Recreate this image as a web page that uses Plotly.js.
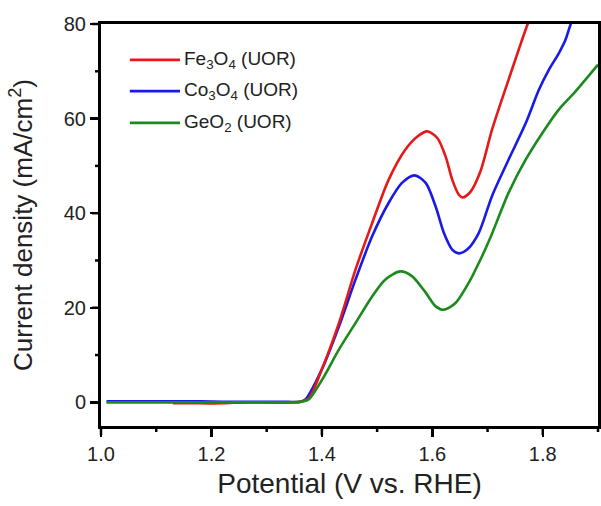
<!DOCTYPE html>
<html>
<head>
<meta charset="utf-8">
<script src="https://cdn.plot.ly/plotly-3.0.1.min.js"></script>
<style>html,body{margin:0;padding:0;background:#fff;}#chart{width:601px;height:506px;}</style>
</head>
<body>
<div id="chart"></div>
<script>
// Potential (V vs. RHE) and current density (mA/cm2)
const feX = [1.13, 1.18, 1.22, 1.26, 1.30, 1.34, 1.36, 1.376, 1.40, 1.431, 1.461, 1.491, 1.521, 1.551, 1.573, 1.591, 1.609, 1.624, 1.636, 1.648, 1.655, 1.669, 1.687, 1.708, 1.738, 1.772, 1.78];
const feY = [-0.2, -0.2, -0.2, 0.0, 0.0, 0.0, 0.1, 0.8, 7.0, 16.8, 28.1, 37.9, 47.1, 53.4, 56.2, 57.3, 55.9, 52.0, 47.1, 43.9, 43.3, 44.5, 48.8, 57.6, 68.2, 79.8, 82.0];

const coX = [1.01, 1.06, 1.10, 1.13, 1.18, 1.22, 1.26, 1.30, 1.34, 1.36, 1.37, 1.40, 1.431, 1.461, 1.491, 1.521, 1.545, 1.568, 1.588, 1.606, 1.621, 1.636, 1.648, 1.663, 1.684, 1.708, 1.738, 1.769, 1.793, 1.811, 1.829, 1.841, 1.850, 1.856];
const coY = [0.2, 0.2, 0.2, 0.2, 0.2, 0.1, 0.1, 0.1, 0.1, 0.1, 0.6, 7.0, 16.1, 26.0, 35.1, 42.2, 46.4, 48.0, 46.4, 41.4, 35.8, 32.3, 31.5, 32.3, 35.8, 43.6, 51.3, 59.0, 66.1, 70.3, 73.8, 76.6, 79.8, 81.5];

const geX = [1.01, 1.06, 1.10, 1.14, 1.18, 1.22, 1.26, 1.30, 1.34, 1.36, 1.376, 1.401, 1.431, 1.461, 1.491, 1.515, 1.542, 1.563, 1.588, 1.606, 1.621, 1.642, 1.666, 1.690, 1.705, 1.738, 1.769, 1.799, 1.829, 1.859, 1.877, 1.90];
const geY = [0.0, 0.0, 0.0, 0.0, 0.0, 0.0, 0.0, 0.0, 0.0, 0.1, 0.6, 4.9, 11.2, 16.8, 22.4, 26.0, 27.7, 26.7, 23.2, 20.3, 19.6, 21.0, 25.3, 30.9, 34.8, 44.3, 51.3, 56.9, 61.9, 65.7, 68.2, 71.4];

const seriesNames = ['Fe<sub>3</sub>O<sub>4</sub> (UOR)', 'Co<sub>3</sub>O<sub>4</sub> (UOR)', 'GeO<sub>2</sub> (UOR)'];
const xTitle = 'Potential (V vs. RHE)';
const yTitle = 'Current density (mA/cm<sup>2</sup>)';
const xMajor = [1.0, 1.2, 1.4, 1.6, 1.8];
const xMinor = [1.1, 1.3, 1.5, 1.7, 1.9];
const yMajor = [0, 20, 40, 60, 80];
const yMinor = [10, 30, 50, 70];
const xRange = [1.0, 1.9];
const yRange = [-5, 80];

const colors = ['#e61919', '#1a1ae6', '#1c8a1c'];
const xs = [feX, coX, geX];
const ys = [feY, coY, geY];

// draw order: blue, red, green (green on top at baseline like the reference)
const order = [1, 0, 2];
const traces = order.map(i => ({
  x: xs[i], y: ys[i], name: seriesNames[i], type: 'scatter', mode: 'lines',
  line: {color: colors[i], width: 2.6, shape: 'spline', smoothing: 0.8},
  showlegend: false
}));

const FONT = 'Liberation Sans, Arial, sans-serif';
const tickFont = {family: FONT, size: 20, color: '#222'};
const PLOT_H = 402, PLOT_W = 497;
const px = v => (v - xRange[0]) / (xRange[1] - xRange[0]);
const py = v => (v - yRange[0]) / (yRange[1] - yRange[0]);

// legend drawn as line samples + labels in the top-left of the plot
const legendY = [0.911, 0.833, 0.754];
const shapes = legendY.map((yy, i) => ({
  type: 'line', xref: 'paper', yref: 'paper', x0: 0.058, x1: 0.159, y0: yy, y1: yy,
  line: {color: colors[i], width: 2.8}
}));
// tick marks outside the frame (paper-referenced so they are not clipped)
const tickLine = {color: '#000', width: 2.5};
xMajor.forEach(v => shapes.push({type: 'line', xref: 'paper', yref: 'paper', x0: px(v), x1: px(v), y0: 0, y1: -9 / PLOT_H, line: tickLine}));
xMinor.forEach(v => shapes.push({type: 'line', xref: 'paper', yref: 'paper', x0: px(v), x1: px(v), y0: 0, y1: -6 / PLOT_H, line: tickLine}));
yMajor.forEach(v => shapes.push({type: 'line', xref: 'paper', yref: 'paper', x0: 0, x1: -9 / PLOT_W, y0: py(v), y1: py(v), line: tickLine}));
yMinor.forEach(v => shapes.push({type: 'line', xref: 'paper', yref: 'paper', x0: 0, x1: -6 / PLOT_W, y0: py(v), y1: py(v), line: tickLine}));

const annotations = legendY.map((yy, i) => ({
  xref: 'paper', yref: 'paper', x: 0.163, y: yy, xanchor: 'left', yanchor: 'middle',
  text: seriesNames[i], showarrow: false, font: {family: FONT, size: 19, color: '#222'}
}));

const layout = {
  width: 601, height: 506,
  margin: {l: 101, r: 3, t: 24, b: 80},
  paper_bgcolor: '#fff', plot_bgcolor: '#fff',
  showlegend: false,
  shapes: shapes, annotations: annotations,
  xaxis: {
    range: xRange, tickmode: 'array', tickvals: xMajor, ticktext: xMajor.map(v => v.toFixed(1)),
    ticks: 'outside', ticklen: 8, tickwidth: 2.5, tickcolor: '#000',
    showline: true, linecolor: '#000', linewidth: 3, mirror: true,
    showgrid: false, zeroline: false, tickfont: tickFont,
    title: {text: xTitle, font: {family: FONT, size: 28, color: '#222'}, standoff: 10}
  },
  yaxis: {
    range: yRange, tickmode: 'array', tickvals: yMajor, ticktext: yMajor.map(String),
    ticks: 'outside', ticklen: 8, tickwidth: 2.5, tickcolor: '#000',
    showline: true, linecolor: '#000', linewidth: 3, mirror: true,
    showgrid: false, zeroline: false, tickfont: tickFont,
    title: {text: yTitle, font: {family: FONT, size: 26, color: '#222'}, standoff: 24}
  }
};

Plotly.newPlot('chart', traces, layout, {displayModeBar: false, staticPlot: true});
</script>
</body>
</html>
